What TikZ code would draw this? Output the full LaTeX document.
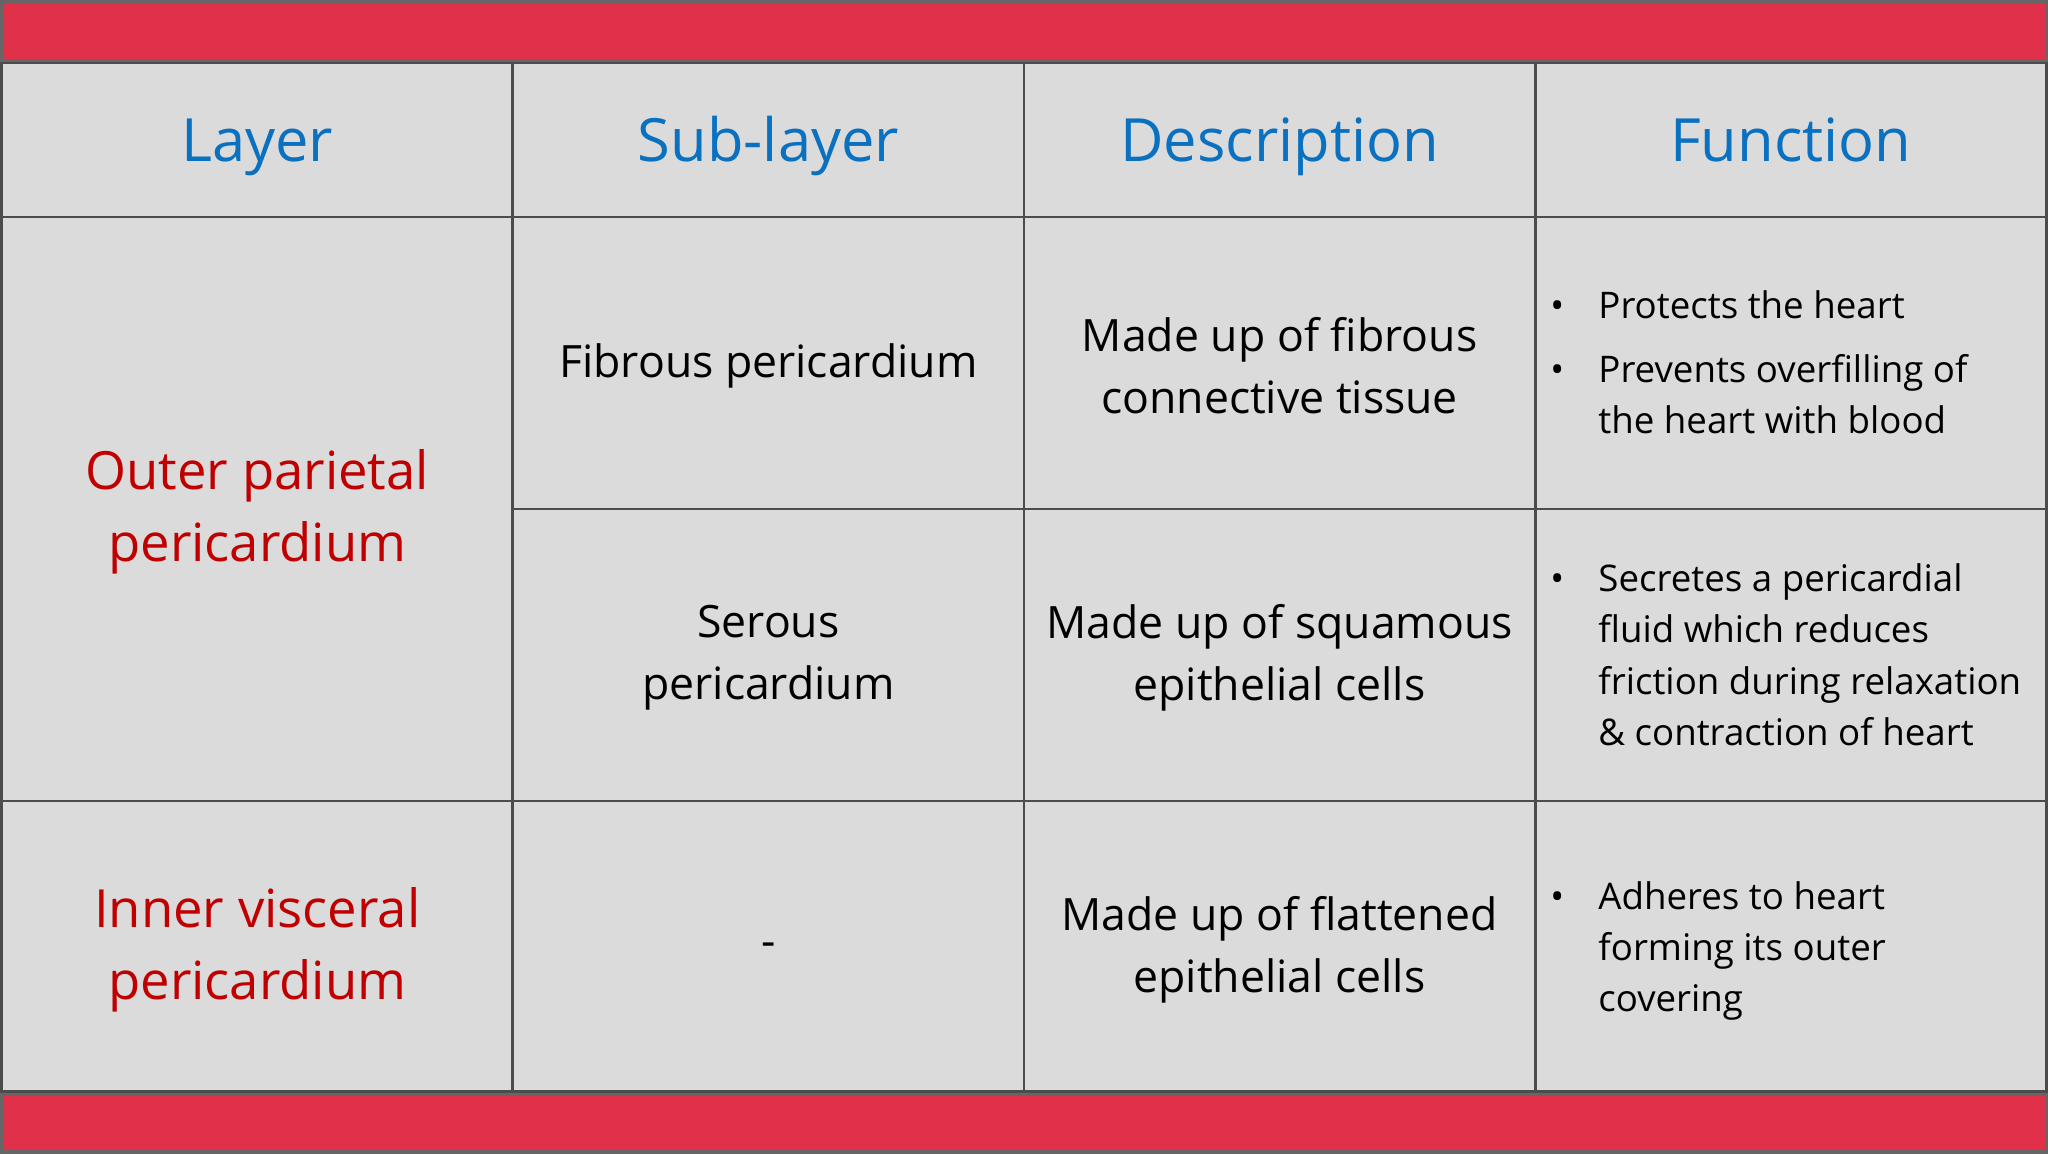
\documentclass[tikz,border=0pt]{standalone}
\usepackage{fontspec}
\setmainfont{Open Sans}
\definecolor{bg}{HTML}{DCDBDC}
\definecolor{band}{HTML}{E0304A}
\definecolor{hdr}{HTML}{0A70C0}
\definecolor{red1}{HTML}{C00000}
\begin{document}
\begin{tikzpicture}[x=0.01306cm,y=-0.01306cm,
  grid/.style={draw=black!70,line width=0.8pt},
  hd/.style={text=hdr,font=\fontsize{17}{20}\selectfont,text height=2.1ex,text depth=0.5ex},
  lay/.style={text=red1,font=\fontsize{15}{20.5}\selectfont,align=center},
  bd/.style={font=\fontsize{12.7}{17.5}\selectfont,align=center,text=black},
  fn/.style={font=\fontsize{10.45}{14}\selectfont,anchor=west,inner sep=0pt,text height=1.9ex,text depth=0.5ex},
  bu/.style={font=\fontsize{10.45}{14}\selectfont,inner sep=0pt,text height=1.9ex,text depth=0.5ex}]
\fill[bg] (0,0) rectangle (1568,882);
\fill[band,draw=black!60,line width=1pt] (0,0) rectangle (1568,45);
\fill[band,draw=black!60,line width=1pt] (0,838) rectangle (1568,882);
\draw[grid] (0,47) rectangle (1568,836);
\foreach \x in {392,784,1176} \draw[grid] (\x,47) -- (\x,836);
\draw[grid] (0,165) -- (1568,165);
\draw[grid] (392,389) -- (1568,389);
\draw[grid] (0,613) -- (1568,613);
\node[hd] (h1) at (196,111) {Layer};
\node[hd] (h2) at (588,111) {Sub-layer};
\node[hd] (h3) at (980,111) {Description};
\node[hd] (h4) at (1372,111) {Function};
\node[lay] (l1) at (196,391) {Outer parietal\\pericardium};
\node[lay] (l2) at (196,727) {Inner visceral\\pericardium};
\node[bd] (s1) at (588,279) {Fibrous pericardium};
\node[bd] (s2) at (588,503) {Serous\\pericardium};
\node[bd] (s3) at (588,727) {-};
\node[bd] (d1) at (980,279) {Made up of fibrous\\connective tissue};
\node[bd] (d2) at (980,503) {Made up of squamous\\epithelial cells};
\node[bd] (d3) at (980,727) {Made up of flattened\\epithelial cells};
\foreach \y in {233,282,442,686} \node[bu] at (1193,\y) {•};
\node[fn] (f1) at (1224,233) {Protects the heart};
\node[fn] (f2) at (1224,282) {Prevents overfilling of};
\node[fn] (f3) at (1224,321) {the heart with blood};
\node[fn] (f4) at (1224,442) {Secretes a pericardial};
\node[fn] (f5) at (1224,481) {fluid which reduces};
\node[fn] (f6) at (1224,521) {friction during relaxation};
\node[fn] (f7) at (1224,560) {\& contraction of heart};
\node[fn] (f8) at (1224,686) {Adheres to heart};
\node[fn] (f9) at (1224,725) {forming its outer};
\node[fn] (f10) at (1224,764) {covering};
\end{tikzpicture}
\end{document}
